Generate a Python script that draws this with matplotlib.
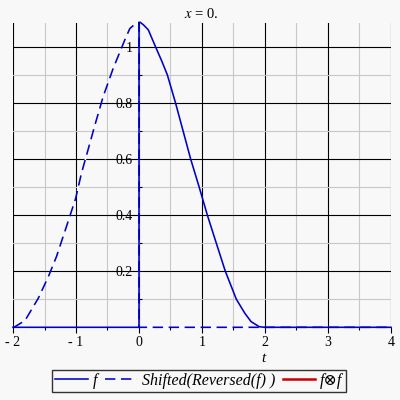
import numpy as np
import matplotlib.pyplot as plt
from matplotlib.ticker import FixedLocator

# values (frame x = 0)
f_t = [-2, 0, 0, 0.016, 0.068, 0.147, 0.263, 0.36, 0.45, 0.58, 0.70, 0.82, 0.955, 1.085,
       1.227, 1.37, 1.545, 1.68, 1.78, 1.91, 2.0, 4]
f_v = [0, 0, 1.085, 1.088, 1.079, 1.061, 1.0, 0.95, 0.90, 0.80, 0.70, 0.60, 0.50, 0.40,
       0.30, 0.20, 0.10, 0.05, 0.02, 0.002, 0, 0]

g_t = [-2, -1.97, -1.81, -1.60, -1.44, -1.31, -1.152, -1.005, -0.914, -0.825, -0.70, -0.57,
       -0.41, -0.227, -0.146, -0.07, -0.016, 0, 0, 4]
g_v = [0, 0.002, 0.024, 0.103, 0.18, 0.252, 0.359, 0.46, 0.549, 0.62, 0.721, 0.822,
       0.923, 1.024, 1.065, 1.08, 1.087, 1.087, 0, 0]

conv_t = [0]
conv_v = [0]

x_ticks = [-2, -1, 0, 1, 2, 3, 4]
x_labels = ['- 2', '- 1', '0', '1', '2', '3', '4']
y_ticks = [0.2, 0.4, 0.6, 0.8, 1.0]
y_labels = ['0.2', '0.4', '0.6', '0.8', '1']

bg = '#f8f8f8'
blue = '#0000c8'
red = '#c80000'
serif = ['Liberation Serif', 'DejaVu Serif']
plt.rcParams['font.family'] = serif
plt.rcParams['axes.unicode_minus'] = False

fig = plt.figure(figsize=(4, 4), dpi=100, facecolor=bg)
ax = fig.add_axes([13/400, 1 - 327.3/400, 378/400, 304/400], facecolor=bg)

ax.set_xlim(-2, 4)
ax.set_ylim(0, 1.084)

ax.xaxis.set_major_locator(FixedLocator(x_ticks))
ax.xaxis.set_minor_locator(FixedLocator(np.arange(-1.5, 4, 1.0)))
ax.yaxis.set_major_locator(FixedLocator(y_ticks))
ax.yaxis.set_minor_locator(FixedLocator(np.arange(0.1, 1.05, 0.2)))
ax.set_xticklabels(x_labels)
ax.set_yticklabels(y_labels)

ax.grid(which='major', color='black', lw=0.8, zorder=0)
ax.grid(which='minor', color='#c8c8c8', lw=0.8, zorder=0)
ax.set_axisbelow(True)

for s in ['top', 'right', 'bottom']:
    ax.spines[s].set_visible(False)
ax.spines['left'].set_position(('data', 0))
ax.spines['left'].set_visible(False)

ax.tick_params(axis='x', which='major', direction='out', length=4, width=0.8, pad=2.5, labelsize=10)
ax.tick_params(axis='x', which='minor', direction='out', length=2, width=0.8)
ax.tick_params(axis='y', which='major', direction='in', length=0, pad=4.5, labelsize=10)
ax.tick_params(axis='y', which='minor', direction='in', length=2.5, width=0.8)

l1, = ax.plot(f_t, f_v, color=blue, lw=1.15, zorder=4, clip_on=False)
l2, = ax.plot(g_t, g_v, color=blue, lw=1.15, ls=(0, (6.5, 3.5)), gapcolor=bg, zorder=3, clip_on=False)
l3, = ax.plot(conv_t, conv_v, color=red, lw=1.8, zorder=5)

fig.text(0.5025, 1 - 14/400, r'$x$ = 0.', ha='center', va='center', fontsize=10.5,
         math_fontfamily='stix')
fig.text(263/400, 1 - 358/400, 't', ha='center', va='center', fontsize=11, style='italic')

leg = fig.legend([l1, l2, l3], ['f', 'Shifted(Reversed(f) )', 'f\u2297f'], loc='center',
                 bbox_to_anchor=(0.4975, 0.0475), ncol=3, frameon=True, fancybox=False,
                 handlelength=2.05, handletextpad=0.3, columnspacing=0.45, borderpad=0.2,
                 borderaxespad=0, prop={'family': serif, 'style': 'italic', 'size': 11.5})
leg.get_frame().set_edgecolor('black')
leg.get_frame().set_facecolor(bg)
leg.get_frame().set_linewidth(1.0)

fig.savefig('out.png', dpi=100, facecolor=bg)
